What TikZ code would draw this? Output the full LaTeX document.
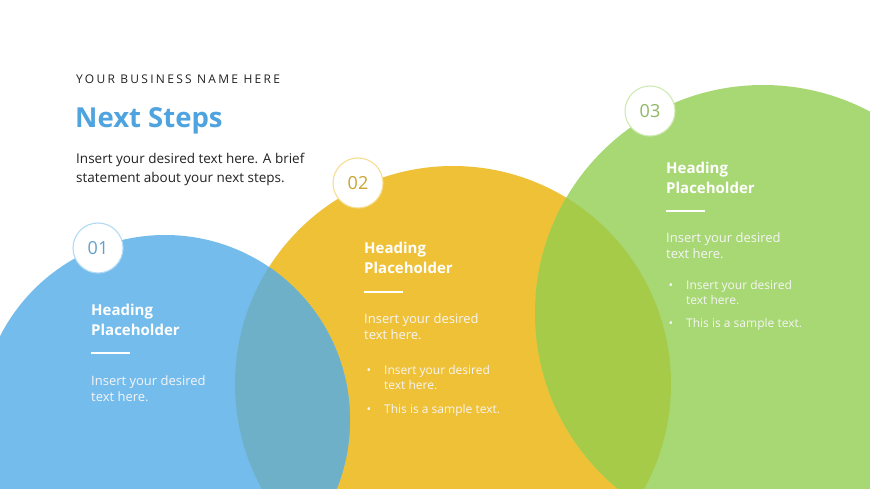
\documentclass[tikz,border=0pt]{standalone}
\usepackage{fontspec}
\setmainfont{Open Sans}
\newfontfamily\spacedfont[LetterSpace=19]{Open Sans}
\usetikzlibrary{positioning}
\definecolor{StepBlue}{HTML}{74BCEC}
\definecolor{StepYellow}{HTML}{EFC137}
\definecolor{StepGreen}{HTML}{A8D874}
\definecolor{BlueYellow}{HTML}{6FB0C9}
\definecolor{YellowGreen}{HTML}{A5CB48}
\definecolor{TitleBlue}{HTML}{4FA3DF}
\definecolor{DarkText}{HTML}{222222}

\newcommand{\stepitem}{\llap{\textbullet\hspace{13pt}}}

\tikzset{
    badge/.style={circle, fill=white, draw=#1!55, line width=1.1pt,
          minimum size=50pt, inner sep=0pt, text=#1!85!black,
          font=\fontsize{18}{18}\selectfont},
    heading/.style={anchor=north west, align=left, inner sep=0pt,
          text=white, font=\fontsize{15}{20}\selectfont\bfseries},
    bodytext/.style={anchor=north west, align=left, inner sep=0pt,
          text=white!92!gray, font=\fontsize{13}{16.5}\selectfont},
    itemtext/.style={anchor=north west, align=left, inner sep=0pt,
          text=white!92!gray, font=\fontsize{12}{15.5}\selectfont},
    rule/.style={white, line width=1.6pt}
}

\begin{document}
\begin{tikzpicture}[x=1pt, y=-1pt]
    \useasboundingbox (0,0) rectangle (870,489);
    \fill[white] (0,0) rectangle (870,489);

    % big circles
    \begin{scope}
        \clip (0,0) rectangle (870,489);
        \fill[StepYellow] (453,384) circle (218pt);
        \fill[StepBlue] (165,420) circle (185pt);
        \fill[StepGreen] (763,313) circle (228pt);
        \begin{scope}
            \clip (453,384) circle (218pt);
            \fill[BlueYellow] (165,420) circle (185pt);
            \fill[YellowGreen] (763,313) circle (228pt);
        \end{scope}
    \end{scope}

    % title block
    \node[anchor=base west, inner sep=0pt, text=DarkText,
          font=\fontsize{12}{14}\spacedfont] (company) at (76,84)
        {YOUR BUSINESS NAME HERE};
    \node[anchor=base west, inner sep=0pt, text=TitleBlue,
          font=\fontsize{27.5}{30}\selectfont\bfseries] (title) at (75,128)
        {Next Steps};
    \node[anchor=north west, align=left, inner sep=0pt, text=DarkText,
          font=\fontsize{13.5}{19}\selectfont] (intro) at (76,153)
        {Insert your desired text here. A brief\\statement about your next steps.};

    % badges
    \node[badge=StepBlue] (num1) at (98,248) {01};
    \node[badge=StepYellow] (num2) at (358,183) {02};
    \node[badge=StepGreen] (num3) at (650,111) {03};

    % step 1
    \node[heading] (head1) at (91,304) {Heading\\Placeholder};
    \draw[rule] (91,353) -- (130,353);
    \node[bodytext] (body1) at (91,375) {Insert your desired\\text here.};

    % step 2
    \node[heading] (head2) at (364,242) {Heading\\Placeholder};
    \draw[rule] (364,292) -- (403,292);
    \node[bodytext] (body2) at (364,313) {Insert your desired\\text here.};
    \node[itemtext] (item2a) at (384,365) {\stepitem Insert your desired\\text here.};
    \node[itemtext] (item2b) at (384,404) {\stepitem This is a sample text.};

    % step 3
    \node[heading] (head3) at (666,162) {Heading\\Placeholder};
    \draw[rule] (666,211) -- (705,211);
    \node[bodytext] (body3) at (666,232) {Insert your desired\\text here.};
    \node[itemtext] (item3a) at (686,280) {\stepitem Insert your desired\\text here.};
    \node[itemtext] (item3b) at (686,318) {\stepitem This is a sample text.};
\end{tikzpicture}
\end{document}
